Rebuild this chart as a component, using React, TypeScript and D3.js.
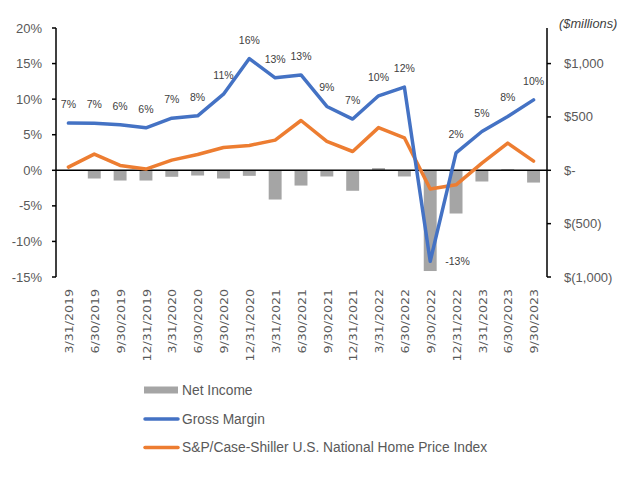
import React from "react";
import * as d3 from "d3";

const categories = [
  "3/31/2019", "6/30/2019", "9/30/2019", "12/31/2019",
  "3/31/2020", "6/30/2020", "9/30/2020", "12/31/2020",
  "3/31/2021", "6/30/2021", "9/30/2021", "12/31/2021",
  "3/31/2022", "6/30/2022", "9/30/2022", "12/31/2022",
  "3/31/2023", "6/30/2023", "9/30/2023",
];

// Net income, $ millions (right axis)
const netIncome = [0, -77, -96, -96, -61, -49, -77, -52, -274, -143, -58, -192, 20, -58, -944, -405, -105, 10, -115];
// Gross margin, % (left axis)
const grossMargin = [6.63, 6.6, 6.4, 5.97, 7.33, 7.66, 10.7, 15.7, 13.0, 13.4, 8.97, 7.2, 10.47, 11.7, -12.8, 2.45, 5.45, 7.57, 9.9];
// S&P/Case-Shiller index YoY, % (left axis)
const homePrice = [0.45, 2.28, 0.68, 0.17, 1.43, 2.22, 3.2, 3.49, 4.24, 7.0, 4.05, 2.64, 6.0, 4.57, -2.64, -2.04, 1.0, 3.82, 1.29];

const leftTicks = [20, 15, 10, 5, 0, -5, -10, -15];
const rightTicks = [1000, 500, 0, -500, -1000];
const rightTickLabels = ["$1,000", "$500", "$-", "$(500)", "$(1,000)"];

const seriesNames = ["Net Income", "Gross Margin", "S&P/Case-Shiller U.S. National Home Price Index"];

const BLUE = "#4472C4";
const ORANGE = "#ED7D31";
const GRAY = "#A5A5A5";
const TEXT = "#595959";
const FONT = "'Liberation Sans', Arial, sans-serif";

export default function App() {
  const W = 640, H = 478;
  const left = 56, right = 547, top = 28, bottom = 277;

  const x = d3.scaleBand<string>().domain(categories).range([left - 0.5, right - 0.5]).padding(0);
  const yL = d3.scaleLinear().domain([-15, 20]).range([bottom, top]);
  const yR = d3.scaleLinear().domain([-1000, 1333.33]).range([bottom, top]);
  const cx = (c: string) => (x(c) as number) + x.bandwidth() / 2;
  const bw = x.bandwidth() * 0.5;

  const line = d3.line<number>()
    .x((_, i) => cx(categories[i]))
    .y((d) => yL(d));

  const zeroY = yL(0);

  return (
    <svg width={W} height={H} style={{ position: "absolute", left: 0, top: 0, background: "#fff" }} fontFamily={FONT}>
      {/* bars */}
      {netIncome.map((v, i) => (
        <rect key={"b" + i}
          x={cx(categories[i]) - bw / 2}
          y={Math.min(yR(v), yR(0))}
          width={bw}
          height={Math.abs(yR(v) - yR(0))}
          fill={GRAY} />
      ))}
      {/* zero line */}
      <line x1={left} x2={right} y1={zeroY} y2={zeroY} stroke="#000" strokeWidth={1.5} />
      {/* lines */}
      <path d={line(homePrice) || ""} fill="none" stroke={ORANGE} strokeWidth={3.5} strokeLinejoin="round" strokeLinecap="round" />
      <path d={line(grossMargin) || ""} fill="none" stroke={BLUE} strokeWidth={3.5} strokeLinejoin="round" strokeLinecap="round" />
      {/* data labels */}
      {grossMargin.map((v, i) => {
        const label = Math.round(v) + "%";
        if (v < 0) {
          return <text key={"l" + i} x={cx(categories[i]) + 15} y={yL(v)} dy="0.35em" fontSize={10.5} fill="#404040" textAnchor="start">{label}</text>;
        }
        return <text key={"l" + i} x={cx(categories[i])} y={yL(v) - 15} fontSize={10.5} fill="#404040" textAnchor="middle">{label}</text>;
      })}
      {/* left axis */}
      <line x1={left} x2={left} y1={top} y2={bottom} stroke="#000" strokeWidth={1.5} />
      {leftTicks.map((t) => (
        <g key={"lt" + t}>
          <line x1={left - 4} x2={left} y1={yL(t)} y2={yL(t)} stroke="#000" strokeWidth={1.5} />
          <text x={42} y={yL(t)} dy="0.35em" textAnchor="end" fontSize={13} fill={TEXT}>{t + "%"}</text>
        </g>
      ))}
      {/* right axis */}
      <line x1={right} x2={right} y1={top} y2={bottom} stroke="#000" strokeWidth={1.5} />
      {rightTicks.map((t, i) => (
        <g key={"rt" + t}>
          <line x1={right} x2={right + 4} y1={yR(t)} y2={yR(t)} stroke="#000" strokeWidth={1.5} />
          <text x={564} y={yR(t)} dy="0.35em" textAnchor="start" fontSize={13} fill={TEXT}>{rightTickLabels[i]}</text>
        </g>
      ))}
      <text x={559} y={24} dy="0.35em" fontSize={12.8} fontStyle="italic" fill="#404040">($millions)</text>
      {/* x labels */}
      {categories.map((c) => (
        <text key={"x" + c} transform={`translate(${cx(c) + 1},${289}) rotate(-90) scale(1.2,1)`} dy="0.35em" textAnchor="end" fontSize={10.5} fontFamily="'DejaVu Sans', sans-serif" fill={TEXT}>{c}</text>
      ))}
      {/* legend */}
      <rect x={144} y={386.5} width={34} height={7} fill={GRAY} />
      <text x={182} y={390} dy="0.35em" fontSize={13.8} fill={TEXT}>{seriesNames[0]}</text>
      <line x1={145} x2={178} y1={419} y2={419} stroke={BLUE} strokeWidth={3.5} strokeLinecap="round" />
      <text x={182} y={419} dy="0.35em" fontSize={13.8} fill={TEXT}>{seriesNames[1]}</text>
      <line x1={145} x2={178} y1={447.5} y2={447.5} stroke={ORANGE} strokeWidth={3.5} strokeLinecap="round" />
      <text x={182} y={447.5} dy="0.35em" fontSize={13.8} fill={TEXT}>{seriesNames[2]}</text>
    </svg>
  );
}
